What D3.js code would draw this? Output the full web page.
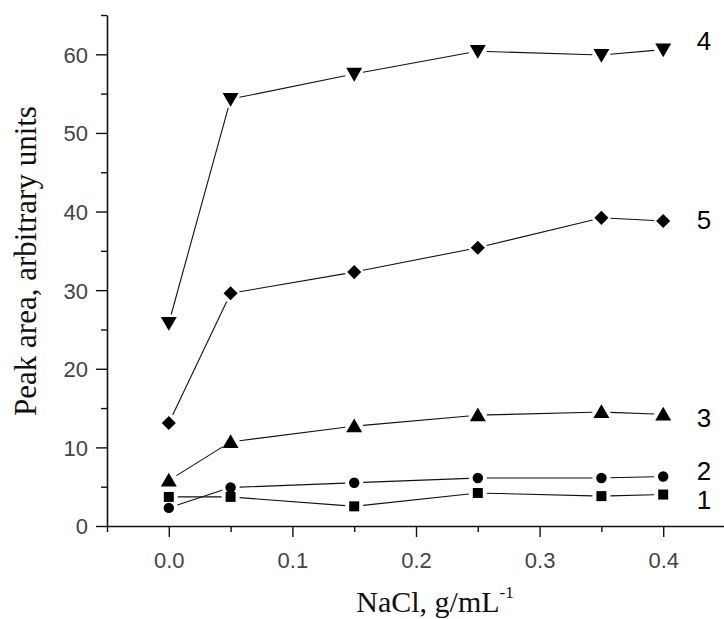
<!DOCTYPE html>
<html>
<head>
<meta charset="utf-8">
<script src="https://cdn.jsdelivr.net/npm/d3@7"></script>
<style>
  body { margin: 0; background: #fff; }
  svg { display: block; }
</style>
</head>
<body>
<div id="chart"></div>
<script>
// NaCl concentration, g/mL
const nacl = [0.0, 0.05, 0.15, 0.25, 0.35, 0.4];

const s1 = [3.7, 3.7, 2.5, 4.2, 3.8, 4.0];
const s2 = [2.3, 4.9, 5.5, 6.1, 6.1, 6.3];
const s3 = [5.8, 10.7, 12.7, 14.1, 14.5, 14.2];
const s4 = [25.8, 54.3, 57.5, 60.4, 59.9, 60.6];
const s5 = [13.1, 29.6, 32.3, 35.4, 39.2, 38.8];

const seriesNames = ['1', '2', '3', '4', '5'];
const xTicks = [0.0, 0.1, 0.2, 0.3, 0.4];
const yTicks = [0, 10, 20, 30, 40, 50, 60];

const width = 724, height = 619;
const plotLeft = 107, plotBottom = 526, plotTop = 15;

const series = [
  {name: '1', values: s1, shape: 'square'},
  {name: '2', values: s2, shape: 'circle'},
  {name: '3', values: s3, shape: 'up'},
  {name: '4', values: s4, shape: 'down'},
  {name: '5', values: s5, shape: 'diamond'}
];

const svg = d3.select('#chart')
  .append('svg')
  .attr('width', width)
  .attr('height', height);

const x = d3.scaleLinear().domain([-0.05, 0.45]).range([plotLeft, plotLeft + 618]);
const y = d3.scaleLinear().domain([0, 65]).range([plotBottom, plotTop]);

// axes
const xAxis = svg.append('g')
  .attr('transform', `translate(0,${plotBottom})`)
  .call(d3.axisBottom(x).tickValues(xTicks).tickSize(11).tickSizeOuter(0)
    .tickFormat(d3.format('.1f')));
const xMinor = svg.append('g')
  .attr('transform', `translate(0,${plotBottom})`)
  .call(d3.axisBottom(x).tickValues([-0.05, 0.05, 0.15, 0.25, 0.35]).tickSize(6)
    .tickSizeOuter(0).tickFormat(''));
xMinor.select('.domain').remove();

const yAxis = svg.append('g')
  .attr('transform', `translate(${plotLeft},0)`)
  .call(d3.axisLeft(y).tickValues(yTicks).tickSize(11).tickSizeOuter(0));
const yMinor = svg.append('g')
  .attr('transform', `translate(${plotLeft},0)`)
  .call(d3.axisLeft(y).tickValues([5, 15, 25, 35, 45, 55, 65]).tickSize(6)
    .tickSizeOuter(0).tickFormat(''));
yMinor.select('.domain').remove();

svg.selectAll('.domain').attr('stroke', '#111').attr('stroke-width', 1.6);
svg.selectAll('.tick line').attr('stroke', '#111').attr('stroke-width', 1.4);
svg.selectAll('.tick text')
  .attr('font-family', 'Liberation Sans, Arial, sans-serif')
  .attr('font-size', 22)
  .attr('fill', '#444');
xAxis.selectAll('.tick text').attr('dy', '1.25em');
yAxis.selectAll('.tick text').attr('x', -19).attr('dy', '0.36em');

// axis titles
const xt = svg.append('text')
  .attr('x', 435).attr('y', 612)
  .attr('text-anchor', 'middle')
  .attr('font-family', 'Liberation Serif, Times New Roman, serif')
  .attr('font-size', 30)
  .attr('fill', '#111');
xt.append('tspan').text('NaCl, g/mL');
xt.append('tspan').attr('dy', -14).attr('font-size', 17).text('-1');

svg.append('text')
  .attr('transform', 'translate(36,261) rotate(-90)')
  .attr('text-anchor', 'middle')
  .attr('font-family', 'Liberation Serif, Times New Roman, serif')
  .attr('font-size', 31)
  .attr('fill', '#111')
  .text('Peak area, arbitrary units');

// marker shapes
const symbolFor = {
  square: d3.symbol().type(d3.symbolSquare).size(100),
  circle: d3.symbol().type(d3.symbolCircle).size(85),
  up: d3.symbol().type(d3.symbolTriangle).size(110),
  down: d3.symbol().type(d3.symbolTriangle).size(110),
  diamond: d3.symbol().type(d3.symbolSquare).size(100)
};
const rotFor = {square: 0, circle: 0, up: 0, down: 180, diamond: 45};

const gap = 9;

series.forEach(s => {
  const pts = nacl.map((v, i) => [x(v), y(s.values[i])]);
  const g = svg.append('g');
  // line segments with a small gap around each marker
  for (let i = 0; i < pts.length - 1; i++) {
    const [x0, y0] = pts[i], [x1, y1] = pts[i + 1];
    const len = Math.hypot(x1 - x0, y1 - y0);
    const ux = (x1 - x0) / len, uy = (y1 - y0) / len;
    g.append('line')
      .attr('x1', x0 + ux * gap).attr('y1', y0 + uy * gap)
      .attr('x2', x1 - ux * gap).attr('y2', y1 - uy * gap)
      .attr('stroke', '#111')
      .attr('stroke-width', 1.1);
  }
  g.selectAll('path.mark')
    .data(pts)
    .join('path')
    .attr('class', 'mark')
    .attr('d', symbolFor[s.shape]())
    .attr('transform', d => {
      const dy = s.shape === 'up' ? 1.5 : s.shape === 'down' ? -1.5 : 0;
      return `translate(${d[0]},${d[1] + dy}) rotate(${rotFor[s.shape]})`;
    })
    .attr('fill', '#000');

  // series label to the right
  const labelY = {'1': 3.3, '2': 7.1, '3': 13.8, '4': 61.8, '5': 39.0}[s.name];
  svg.append('text')
    .attr('x', 704).attr('y', y(labelY))
    .attr('dy', '0.36em')
    .attr('text-anchor', 'middle')
    .attr('font-family', 'Liberation Sans, Arial, sans-serif')
    .attr('font-size', 26)
    .attr('fill', '#000')
    .text(s.name);
});
</script>
</body>
</html>
